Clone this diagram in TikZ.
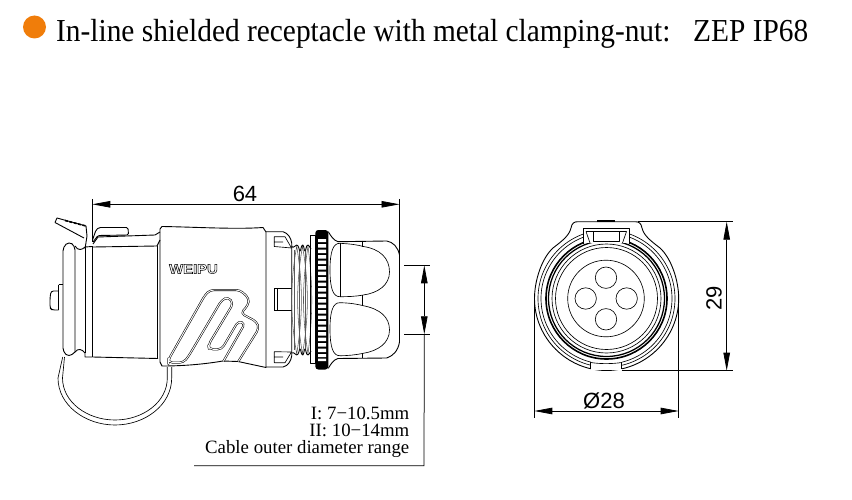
\documentclass[tikz,border=0pt]{standalone}
\usepackage{fontspec}
\setmainfont{Liberation Serif}
\setsansfont{Liberation Sans}
\usetikzlibrary{arrows.meta}
\definecolor{bulletorange}{RGB}{240,125,10}
\tikzset{
  part/.style={line width=0.9pt, line join=round},
  fine/.style={line width=0.65pt, line join=round},
  grip/.style={line width=0.55pt, double, double distance=0.9pt, line join=round},
  threadline/.style={line width=0.55pt, black!65},
  dimline/.style={line width=0.75pt},
  dimboth/.style={dimline, {Triangle[length=18pt,width=6.5pt]}-{Triangle[length=18pt,width=6.5pt]}},
  dimlabel/.style={font=\sffamily\fontsize{22}{22}\selectfont},
  rangetext/.style={font=\fontsize{18.8}{17.2}\selectfont, align=right, anchor=south east}
}
\begin{document}
\begin{tikzpicture}[x=1pt,y=-1pt]
\useasboundingbox (0,0) rectangle (852,500);

%title
\fill[bulletorange] (34.5,27) circle[radius=11.5];
\node[anchor=base west, inner sep=0, xscale=0.918, font=\fontsize{32}{32}\selectfont] (title) at (56,42) {In-line shielded receptacle with metal clamping-nut:};
\node[anchor=base west, inner sep=0, xscale=0.918, font=\fontsize{32}{32}\selectfont] (model) at (693,42) {ZEP IP68};

%cap and hinge
\draw[part] (55,222.5) -- (57,218) -- (86,226) -- (87,236) -- (85,249) (55,222.5) -- (84,238);
\draw[line width=1.6pt, dash pattern=on 3pt off 1.5pt] (65,220.5) -- (86,226);
\draw[part, rounded corners=1.5pt] (92.5,240) -- (96,230) -- (99,227.5) -- (128,227.5) -- (128.5,235) -- (98,235.5) -- (93,242);
\draw[part] (93,244) -- (98,237) -- (155,235) -- (160,232);
\draw[part] (93,247) -- (157,246) -- (160,240);
\draw[part] (92.5,357) -- (158,358.5);
\draw[part, rounded corners=4pt] (75,352) -- (75,246) -- (69,241.5) -- (63,247) -- (63,352) -- (69,357) -- (75,352);
\draw[part] (75,246) .. controls (78,251) and (82,250) .. (85,247) -- (92,246.5) (75,352) .. controls (78,348) and (82,349) .. (85,353) -- (85,357) -- (92,357);
\draw[part] (85,247) -- (85,353) (92.5,246) -- (92.5,357);
\draw[part] (58.5,284.5) -- (63,284.5) (58.5,284.5) -- (58.5,310);
\draw[part, rounded corners=2.5pt] (58.5,291) -- (51,291) -- (50,298) -- (50,308) -- (52,310) -- (58.5,310);
\draw[part, line width=1.3pt] (157.5,246) -- (157.5,358);

%wire loop
\draw[fine] (62.7,357) -- (58,378) .. controls (58,405) and (85,425) .. (115,425) .. controls (145,425) and (171.7,405) .. (171.7,378) -- (171.7,367);
\draw[fine] (64.5,357) -- (62.5,378) .. controls (62.5,402) and (87,420) .. (115,420) .. controls (143,420) and (167.3,402) .. (167.3,378) -- (167.3,367);

%body
\draw[part] (160,229) -- (160,362) -- (162,366) .. controls (185,366) and (205,364) .. (223,361) -- (238,361.5) -- (266,367.5) -- (266,232) -- (263,227.5) .. controls (235,229.5) and (195,227) .. (162,226.5) -- cycle;
\node[font=\sffamily\bfseries\fontsize{13.5}{13.5}\selectfont, inner sep=0, xscale=1.1] (brand) at (193.5,269) {\special{pdf:code 1 Tr 0.5 w}WEIPU\special{pdf:code 0 Tr}};
\draw[grip, rounded corners=4pt] (223.3,361.5) -- (245,323.3) -- (238.3,321) -- (221.7,349.3) -- (209,349.3) -- (208.3,345) -- (233.3,303.3) -- (228.3,297) -- (221.7,300) -- (188.3,356.7) -- (183.3,362.7) -- (168.3,362.5) -- (168.3,360) -- (205,295) -- (210,290) -- (240,290) -- (249,298.3) -- (248.3,305) -- (240.7,313.3) -- (256.7,321.7) -- (259,328.3) -- (238.3,361.5);

%neck and windows
\draw[part] (266,231.7) -- (283,231.7) .. controls (288,233) and (291,238) .. (291.7,243) -- (291.7,356) .. controls (291,361) and (288,366) .. (283,367) -- (266,367);
\draw[fine] (274.3,236.7) -- (285,236.7) -- (291.5,248) -- (274.3,246.5) -- cycle (274.3,242) -- (283,242);
\draw[fine] (274.3,288.3) -- (291.5,288.3) (274.3,310.7) -- (291.5,310.7) (274.3,288.3) -- (274.3,310.7) (277,288.3) -- (277,310.7);
\draw[fine] (274.3,351.7) -- (291.5,352) -- (285,362.7) -- (274.3,362.7) -- cycle (274.3,357) -- (283,357);

%thread
\draw[threadline] (296.7,246) .. controls (290,285) and (290,315) .. (296.7,354) (296.7,246) .. controls (303,285) and (303,315) .. (296.7,354) (302.5,246) .. controls (296,285) and (296,315) .. (302.5,354) (302.5,246) .. controls (309,285) and (309,315) .. (302.5,354) (308,246) .. controls (302,285) and (302,315) .. (308,354) (308,246) .. controls (313,285) and (313,315) .. (308,354);
\draw[threadline] (294,250) -- (294,350) (299.5,251) -- (299.5,349) (305,251) -- (305,349) (310,250) -- (310,350);
\draw[part] (291.7,246) .. controls (293,249) and (294,246) .. (296.7,245) .. controls (299,245) and (299,251) .. (300,251) .. controls (301,251) and (301,245) .. (302.7,245) .. controls (304,245) and (304,251) .. (305,251) .. controls (306,251) and (306,245) .. (308,245) .. controls (309,245) and (310,248) .. (311,249);
\draw[part] (291.7,353) .. controls (293,351) and (294,354) .. (296.7,355) .. controls (299,355) and (299,349) .. (300,349) .. controls (301,349) and (301,355) .. (302.7,355) .. controls (304,355) and (304,349) .. (305,349) .. controls (306,349) and (306,355) .. (308,355) .. controls (309,355) and (310,352) .. (311,351);

%clamping nut
\draw[fine] (310.5,235) rectangle (315.3,363.5);
\fill[rounded corners=3pt] (315.3,230) rectangle (328.3,369.5);
\fill[white] (318,239) rectangle (326,242) (318,244) rectangle (326,247.5) (318,249.5) rectangle (326,253) (318,255) rectangle (326,258.5) (318,260.5) rectangle (326,264) (318,266) rectangle (326,269.5) (318,271.5) rectangle (326,275) (318,277) rectangle (326,280.5) (318,282.5) rectangle (326,286) (318,288) rectangle (326,291.5) (318,293.5) rectangle (326,297) (318,299) rectangle (326,302.5) (318,304.5) rectangle (326,308) (318,310) rectangle (326,313.5) (318,315.5) rectangle (326,319) (318,321) rectangle (326,324.5) (318,326.5) rectangle (326,330) (318,332) rectangle (326,335.5) (318,337.5) rectangle (326,341) (318,343) rectangle (326,346.5) (318,348.5) rectangle (326,352) (318,354) rectangle (326,357) (318,358.5) rectangle (326,361);

%gland housing
\draw[part] (328.3,231.7) .. controls (331,236) and (333,240) .. (338,241.7) -- (386.7,241) .. controls (393,242) and (398,247) .. (399.5,255) -- (399.5,342) .. controls (398,351) and (393,356) .. (386.7,358) -- (338,358.5) .. controls (333,360) and (331,364) .. (328.3,368.3);
\draw[fine] (362.3,240.7) -- (362.3,246.7) (362.3,295) -- (362.3,305.5) (362.3,353.3) -- (362.3,358.3);
\draw[fine] (340,243.3) .. controls (352,244) and (358,245) .. (363.3,246.5) .. controls (380,249) and (389.5,258) .. (389.5,272) .. controls (389.5,285) and (378,293) .. (363.3,295) .. controls (355,296.5) and (348,296.7) .. (340,296.7) .. controls (333,297) and (330,288) .. (330,270) .. controls (330,252) and (333,243) .. (340,243.3);
\draw[fine] (340,243.3) -- (340,296.7);
\draw[fine] (340,302.7) .. controls (352,303) and (358,304.5) .. (363.3,305.7) .. controls (380,309) and (389.5,317) .. (389.5,330) .. controls (389.5,343) and (378,351) .. (363.3,353.3) .. controls (355,355) and (348,355.7) .. (340,355.7) .. controls (333,356) and (330,347) .. (330,329) .. controls (330,311) and (333,302.5) .. (340,302.7);

%length dimension
\coordinate (lenL) at (92.3,204.3);
\coordinate (lenR) at (399.5,204.3);
\draw[dimline] (92.3,199) -- (92.3,242) (399.5,199) -- (399.5,255);
\draw[dimboth] (lenL) -- (lenR);
\node[dimlabel, inner sep=0] (lenlabel) at (245,194) {64};

%cable range dimension
\coordinate (cabT) at (424.3,265.3);
\coordinate (cabB) at (424.3,334.3);
\coordinate (cabC) at (424,465.7);
\coordinate (cabE) at (194,465.7);
\draw[dimline] (404,265.3) -- (430,265.3) (404,334.3) -- (430,334.3);
\draw[dimboth] (cabT) -- (cabB);
\draw[dimline] (cabB) -- (cabC) -- (cabE);
\node[rangetext, inner sep=0] (rangetext) at (409.5,458) {I: 7\textminus10.5mm\\II: 10\textminus14mm\\Cable outer diameter range};

%front view
\draw[part] (534.5,298.5) .. controls (534.5,280) and (542,258) .. (553,248) .. controls (562,241) and (569,236) .. (571,228) .. controls (572,223) and (574,221.7) .. (578,221.7) -- (635,221.7) .. controls (639,221.7) and (641,223) .. (642,228) .. controls (644,236) and (651,241) .. (660,248) .. controls (671,258) and (678.7,280) .. (678.7,298.5) .. controls (678.7,338) and (646,370.5) .. (606.5,370.5) .. controls (567,370.5) and (534.5,338) .. (534.5,298.5) -- cycle;
\draw[line width=2pt] (597.3,221) -- (615,221);
\draw[fine] (606.5,298.5) circle[radius=68.5];
\draw[fine] (606.5,298.5) circle[radius=65.5];
\draw[line width=1.6pt] (606.5,298.5) circle[radius=60.5];
\draw[line width=1.3pt] (606.5,298.5) circle[radius=58];
\draw[fine] (606.5,298.5) circle[radius=54.5];
\draw[fine] (606.5,298.5) circle[radius=51];

%latch
\fill[white] (583.3,228.3) rectangle (629.3,243);
\draw[part] (583.3,244) -- (583.3,228.3) -- (629.3,228.3) -- (629.3,244);
\draw[fine] (586,231.5) -- (626.5,231.5) (586,231.5) -- (590,243) (626.5,231.5) -- (622.5,243);
\draw[fine] (593.3,231.5) -- (593.3,241) -- (619.3,241) -- (619.3,231.5);
\fill[white] (591,361) rectangle (621.5,369.8);
\draw[fine] (590.7,362) -- (590.7,368.8) (621.7,362) -- (621.7,369);
\draw[fine] (590.7,362.5) .. controls (600,364) and (612,364) .. (621.7,362.5);

%contact face
\draw[fine] (606,298.5) circle[radius=38.3];
\draw[fine] (606,277.7) circle[radius=10.7];
\draw[fine] (585.7,298.5) circle[radius=10.7];
\draw[fine] (626.7,298.5) circle[radius=10.7];
\draw[fine] (606,319.3) circle[radius=10.7];

%front dimensions
\coordinate (hgtT) at (726.7,221.7);
\coordinate (hgtB) at (726.7,370.7);
\coordinate (dmaL) at (534.3,411);
\coordinate (dmaR) at (678.7,411);
\draw[dimline] (638,221.7) -- (733,221.7) (621.7,370.7) -- (733,370.7) (534.3,298) -- (534.3,418) (678.7,298) -- (678.7,418);
\draw[dimboth] (hgtT) -- (hgtB);
\draw[dimboth] (dmaL) -- (dmaR);
\node[dimlabel, inner sep=0, rotate=90] (hgtlabel) at (714,298) {29};
\node[dimlabel, inner sep=0] (dmalabel) at (604,400.5) {Ø28};
\end{tikzpicture}
\end{document}
